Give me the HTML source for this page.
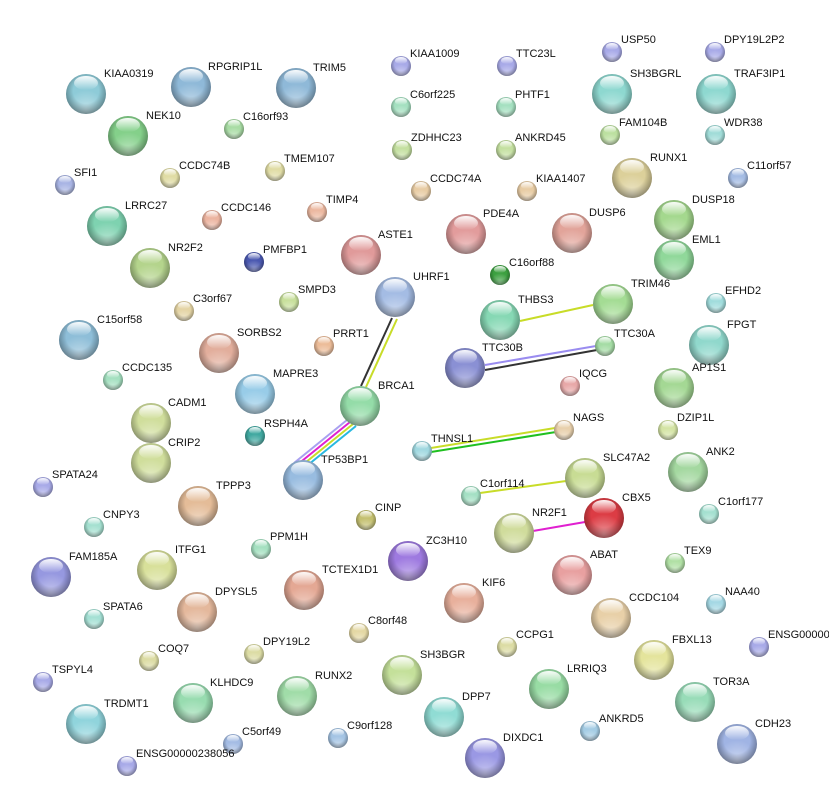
<!DOCTYPE html>
<html><head><meta charset="utf-8"><style>
html,body{margin:0;padding:0;background:#fff;}
svg{display:block;}
text{font-family:"Liberation Sans",sans-serif;font-size:11px;fill:#111;}
</style></head><body>
<svg width="829" height="811" viewBox="0 0 829 811" xmlns="http://www.w3.org/2000/svg">
<defs>
<radialGradient id="sh" cx="50%" cy="42%" r="58%"><stop offset="0.55" stop-color="#000" stop-opacity="0"/><stop offset="1" stop-color="#000" stop-opacity="0.38"/></radialGradient>
<linearGradient id="hl" x1="0" y1="0" x2="0" y2="1"><stop offset="0" stop-color="#fff" stop-opacity="0.95"/><stop offset="1" stop-color="#fff" stop-opacity="0"/></linearGradient>
<radialGradient id="bl" cx="50%" cy="90%" r="50%"><stop offset="0" stop-color="#fff" stop-opacity="0.45"/><stop offset="1" stop-color="#fff" stop-opacity="0"/></radialGradient>
<g id="L"><ellipse cx="1" cy="3" rx="20" ry="20" fill="#000" opacity="0.12"/></g>
<g id="LO"><circle r="20" fill="url(#bl)"/><circle r="20" fill="url(#sh)"/><ellipse cx="0" cy="-11" rx="12" ry="7" fill="url(#hl)"/></g>
<g id="SO"><circle r="10" fill="url(#bl)"/><circle r="10" fill="url(#sh)"/><ellipse cx="0" cy="-5.5" rx="6" ry="3.5" fill="url(#hl)"/></g>
</defs>

<!-- edges -->
<g fill="none" stroke-width="2">
<line x1="392" y1="318" x2="361" y2="386" stroke="#333"/>
<line x1="397" y1="319" x2="366" y2="387" stroke="#c8dc28"/>
<line x1="520" y1="321" x2="593" y2="305" stroke="#c8dc28"/>
<line x1="485" y1="365" x2="596" y2="346" stroke="#9a8cf0"/>
<line x1="485" y1="370" x2="597" y2="350" stroke="#333"/>
<line x1="347" y1="420" x2="294" y2="463" stroke="#a9a0f0"/>
<line x1="350" y1="422" x2="297" y2="465" stroke="#e020d0"/>
<line x1="353" y1="424" x2="300" y2="467" stroke="#c8dc28"/>
<line x1="356" y1="426" x2="303" y2="469" stroke="#28b8e0"/>
<line x1="431" y1="448" x2="555" y2="428" stroke="#c8dc28"/>
<line x1="431" y1="452" x2="556" y2="432" stroke="#20c020"/>
<line x1="480" y1="493" x2="566" y2="481" stroke="#c8dc28"/>
<line x1="533" y1="531" x2="585" y2="522" stroke="#e020d0"/>
</g>

<!-- large nodes -->
<g>
<circle cx="86" cy="94" r="20" fill="#8ecbd8"/><use href="#LO" x="86" y="94"/><text x="104" y="77">KIAA0319</text>
<circle cx="191" cy="87" r="20" fill="#8fb9d8"/><use href="#LO" x="191" y="87"/><text x="208" y="70">RPGRIP1L</text>
<circle cx="296" cy="88" r="20" fill="#8fb9d8"/><use href="#LO" x="296" y="88"/><text x="313" y="71">TRIM5</text>
<circle cx="128" cy="136" r="20" fill="#84d08a"/><use href="#LO" x="128" y="136"/><text x="146" y="119">NEK10</text>
<circle cx="107" cy="226" r="20" fill="#7ed2b0"/><use href="#LO" x="107" y="226"/><text x="125" y="209">LRRC27</text>
<circle cx="150" cy="268" r="20" fill="#b4d48c"/><use href="#LO" x="150" y="268"/><text x="168" y="251">NR2F2</text>
<circle cx="361" cy="255" r="20" fill="#e09a9a"/><use href="#LO" x="361" y="255"/><text x="378" y="238">ASTE1</text>
<circle cx="466" cy="234" r="20" fill="#e29c9c"/><use href="#LO" x="466" y="234"/><text x="483" y="217">PDE4A</text>
<circle cx="572" cy="233" r="20" fill="#e2a49a"/><use href="#LO" x="572" y="233"/><text x="589" y="216">DUSP6</text>
<circle cx="632" cy="178" r="20" fill="#dcd09a"/><use href="#LO" x="632" y="178"/><text x="650" y="161">RUNX1</text>
<circle cx="612" cy="94" r="20" fill="#8ed8d0"/><use href="#LO" x="612" y="94"/><text x="630" y="77">SH3BGRL</text>
<circle cx="716" cy="94" r="20" fill="#8ed8d0"/><use href="#LO" x="716" y="94"/><text x="734" y="77">TRAF3IP1</text>
<circle cx="674" cy="220" r="20" fill="#a4d88e"/><use href="#LO" x="674" y="220"/><text x="692" y="203">DUSP18</text>
<circle cx="674" cy="260" r="20" fill="#90d89a"/><use href="#LO" x="674" y="260"/><text x="692" y="243">EML1</text>
<circle cx="395" cy="297" r="20" fill="#a4bce4"/><use href="#LO" x="395" y="297"/><text x="413" y="280">UHRF1</text>
<circle cx="500" cy="320" r="20" fill="#86d8b4"/><use href="#LO" x="500" y="320"/><text x="518" y="303">THBS3</text>
<circle cx="613" cy="304" r="20" fill="#a4dc94"/><use href="#LO" x="613" y="304"/><text x="631" y="287">TRIM46</text>
<circle cx="465" cy="368" r="20" fill="#8a90d4"/><use href="#LO" x="465" y="368"/><text x="482" y="351">TTC30B</text>
<circle cx="709" cy="345" r="20" fill="#90d8cc"/><use href="#LO" x="709" y="345"/><text x="727" y="328">FPGT</text>
<circle cx="674" cy="388" r="20" fill="#a4d894"/><use href="#LO" x="674" y="388"/><text x="692" y="371">AP1S1</text>
<circle cx="79" cy="340" r="20" fill="#8ebed8"/><use href="#LO" x="79" y="340"/><text x="97" y="323">C15orf58</text>
<circle cx="219" cy="353" r="20" fill="#e2ae9c"/><use href="#LO" x="219" y="353"/><text x="237" y="336">SORBS2</text>
<circle cx="255" cy="394" r="20" fill="#98cce8"/><use href="#LO" x="255" y="394"/><text x="273" y="377">MAPRE3</text>
<circle cx="360" cy="406" r="20" fill="#94dca8"/><use href="#LO" x="360" y="406"/><text x="378" y="389">BRCA1</text>
<circle cx="151" cy="423" r="20" fill="#d0de9c"/><use href="#LO" x="151" y="423"/><text x="168" y="406">CADM1</text>
<circle cx="151" cy="463" r="20" fill="#d0de9c"/><use href="#LO" x="151" y="463"/><text x="168" y="446">CRIP2</text>
<circle cx="688" cy="472" r="20" fill="#a4d8a0"/><use href="#LO" x="688" y="472"/><text x="706" y="455">ANK2</text>
<circle cx="585" cy="478" r="20" fill="#c8dc94"/><use href="#LO" x="585" y="478"/><text x="603" y="461">SLC47A2</text>
<circle cx="604" cy="518" r="20" fill="#dc3c44"/><use href="#LO" x="604" y="518"/><text x="622" y="501">CBX5</text>
<circle cx="303" cy="480" r="20" fill="#98bce0"/><use href="#LO" x="303" y="480"/><text x="321" y="463">TP53BP1</text>
<circle cx="198" cy="506" r="20" fill="#e4bc98"/><use href="#LO" x="198" y="506"/><text x="216" y="489">TPPP3</text>
<circle cx="514" cy="533" r="20" fill="#d0dc9c"/><use href="#LO" x="514" y="533"/><text x="532" y="516">NR2F1</text>
<circle cx="408" cy="561" r="20" fill="#9e7ae0"/><use href="#LO" x="408" y="561"/><text x="426" y="544">ZC3H10</text>
<circle cx="51" cy="577" r="20" fill="#9698e0"/><use href="#LO" x="51" y="577"/><text x="69" y="560">FAM185A</text>
<circle cx="157" cy="570" r="20" fill="#d8e09a"/><use href="#LO" x="157" y="570"/><text x="175" y="553">ITFG1</text>
<circle cx="304" cy="590" r="20" fill="#e4a894"/><use href="#LO" x="304" y="590"/><text x="322" y="573">TCTEX1D1</text>
<circle cx="572" cy="575" r="20" fill="#e8a0a0"/><use href="#LO" x="572" y="575"/><text x="590" y="558">ABAT</text>
<circle cx="464" cy="603" r="20" fill="#e8b09c"/><use href="#LO" x="464" y="603"/><text x="482" y="586">KIF6</text>
<circle cx="197" cy="612" r="20" fill="#e4b89c"/><use href="#LO" x="197" y="612"/><text x="215" y="595">DPYSL5</text>
<circle cx="611" cy="618" r="20" fill="#e8d0a8"/><use href="#LO" x="611" y="618"/><text x="629" y="601">CCDC104</text>
<circle cx="654" cy="660" r="20" fill="#e4e49c"/><use href="#LO" x="654" y="660"/><text x="672" y="643">FBXL13</text>
<circle cx="402" cy="675" r="20" fill="#c4e09a"/><use href="#LO" x="402" y="675"/><text x="420" y="658">SH3BGR</text>
<circle cx="549" cy="689" r="20" fill="#98dca4"/><use href="#LO" x="549" y="689"/><text x="567" y="672">LRRIQ3</text>
<circle cx="297" cy="696" r="20" fill="#a0dca8"/><use href="#LO" x="297" y="696"/><text x="315" y="679">RUNX2</text>
<circle cx="193" cy="703" r="20" fill="#98dcb0"/><use href="#LO" x="193" y="703"/><text x="210" y="686">KLHDC9</text>
<circle cx="695" cy="702" r="20" fill="#98dcb8"/><use href="#LO" x="695" y="702"/><text x="713" y="685">TOR3A</text>
<circle cx="86" cy="724" r="20" fill="#90d4dc"/><use href="#LO" x="86" y="724"/><text x="104" y="707">TRDMT1</text>
<circle cx="444" cy="717" r="20" fill="#90dcd4"/><use href="#LO" x="444" y="717"/><text x="462" y="700">DPP7</text>
<circle cx="485" cy="758" r="20" fill="#9a98e4"/><use href="#LO" x="485" y="758"/><text x="503" y="741">DIXDC1</text>
<circle cx="737" cy="744" r="20" fill="#a0b4e4"/><use href="#LO" x="737" y="744"/><text x="755" y="727">CDH23</text>
</g>

<!-- small nodes -->
<g>
<circle cx="401" cy="66" r="10" fill="#a8aae8"/><use href="#SO" x="401" y="66"/><text x="410" y="57">KIAA1009</text>
<circle cx="507" cy="66" r="10" fill="#a8aae8"/><use href="#SO" x="507" y="66"/><text x="516" y="57">TTC23L</text>
<circle cx="612" cy="52" r="10" fill="#a8aae8"/><use href="#SO" x="612" y="52"/><text x="621" y="43">USP50</text>
<circle cx="715" cy="52" r="10" fill="#a8aae8"/><use href="#SO" x="715" y="52"/><text x="724" y="43">DPY19L2P2</text>
<circle cx="401" cy="107" r="10" fill="#a4e0c0"/><use href="#SO" x="401" y="107"/><text x="410" y="98">C6orf225</text>
<circle cx="506" cy="107" r="10" fill="#a4e0c0"/><use href="#SO" x="506" y="107"/><text x="515" y="98">PHTF1</text>
<circle cx="234" cy="129" r="10" fill="#a8dca4"/><use href="#SO" x="234" y="129"/><text x="243" y="120">C16orf93</text>
<circle cx="610" cy="135" r="10" fill="#bce0a0"/><use href="#SO" x="610" y="135"/><text x="619" y="126">FAM104B</text>
<circle cx="715" cy="135" r="10" fill="#a0dcd8"/><use href="#SO" x="715" y="135"/><text x="724" y="126">WDR38</text>
<circle cx="402" cy="150" r="10" fill="#c4e0a0"/><use href="#SO" x="402" y="150"/><text x="411" y="141">ZDHHC23</text>
<circle cx="506" cy="150" r="10" fill="#c4e0a0"/><use href="#SO" x="506" y="150"/><text x="515" y="141">ANKRD45</text>
<circle cx="170" cy="178" r="10" fill="#e0dca4"/><use href="#SO" x="170" y="178"/><text x="179" y="169">CCDC74B</text>
<circle cx="275" cy="171" r="10" fill="#e0dca4"/><use href="#SO" x="275" y="171"/><text x="284" y="162">TMEM107</text>
<circle cx="65" cy="185" r="10" fill="#a8b4e4"/><use href="#SO" x="65" y="185"/><text x="74" y="176">SFI1</text>
<circle cx="421" cy="191" r="10" fill="#e8cca4"/><use href="#SO" x="421" y="191"/><text x="430" y="182">CCDC74A</text>
<circle cx="527" cy="191" r="10" fill="#e8cca4"/><use href="#SO" x="527" y="191"/><text x="536" y="182">KIAA1407</text>
<circle cx="738" cy="178" r="10" fill="#a4bce4"/><use href="#SO" x="738" y="178"/><text x="747" y="169">C11orf57</text>
<circle cx="212" cy="220" r="10" fill="#ecb4a0"/><use href="#SO" x="212" y="220"/><text x="221" y="211">CCDC146</text>
<circle cx="317" cy="212" r="10" fill="#ecb8a0"/><use href="#SO" x="317" y="212"/><text x="326" y="203">TIMP4</text>
<circle cx="254" cy="262" r="10" fill="#4a58b0"/><use href="#SO" x="254" y="262"/><text x="263" y="253">PMFBP1</text>
<circle cx="500" cy="275" r="10" fill="#3ca040"/><use href="#SO" x="500" y="275"/><text x="509" y="266">C16orf88</text>
<circle cx="289" cy="302" r="10" fill="#c8e09c"/><use href="#SO" x="289" y="302"/><text x="298" y="293">SMPD3</text>
<circle cx="184" cy="311" r="10" fill="#e4d4a4"/><use href="#SO" x="184" y="311"/><text x="193" y="302">C3orf67</text>
<circle cx="716" cy="303" r="10" fill="#a0dcdc"/><use href="#SO" x="716" y="303"/><text x="725" y="294">EFHD2</text>
<circle cx="324" cy="346" r="10" fill="#ecbc98"/><use href="#SO" x="324" y="346"/><text x="333" y="337">PRRT1</text>
<circle cx="605" cy="346" r="10" fill="#a4dca4"/><use href="#SO" x="605" y="346"/><text x="614" y="337">TTC30A</text>
<circle cx="113" cy="380" r="10" fill="#a4e0c0"/><use href="#SO" x="113" y="380"/><text x="122" y="371">CCDC135</text>
<circle cx="570" cy="386" r="10" fill="#e8a8a8"/><use href="#SO" x="570" y="386"/><text x="579" y="377">IQCG</text>
<circle cx="255" cy="436" r="10" fill="#40a8a0"/><use href="#SO" x="255" y="436"/><text x="264" y="427">RSPH4A</text>
<circle cx="564" cy="430" r="10" fill="#e8d0ac"/><use href="#SO" x="564" y="430"/><text x="573" y="421">NAGS</text>
<circle cx="668" cy="430" r="10" fill="#d4e4a4"/><use href="#SO" x="668" y="430"/><text x="677" y="421">DZIP1L</text>
<circle cx="422" cy="451" r="10" fill="#a0d8e0"/><use href="#SO" x="422" y="451"/><text x="431" y="442">THNSL1</text>
<circle cx="43" cy="487" r="10" fill="#a8aae8"/><use href="#SO" x="43" y="487"/><text x="52" y="478">SPATA24</text>
<circle cx="471" cy="496" r="10" fill="#a4e0c4"/><use href="#SO" x="471" y="496"/><text x="480" y="487">C1orf114</text>
<circle cx="709" cy="514" r="10" fill="#a4e0d0"/><use href="#SO" x="709" y="514"/><text x="718" y="505">C1orf177</text>
<circle cx="94" cy="527" r="10" fill="#a4e0d0"/><use href="#SO" x="94" y="527"/><text x="103" y="518">CNPY3</text>
<circle cx="366" cy="520" r="10" fill="#c4c070"/><use href="#SO" x="366" y="520"/><text x="375" y="511">CINP</text>
<circle cx="261" cy="549" r="10" fill="#a4e0c0"/><use href="#SO" x="261" y="549"/><text x="270" y="540">PPM1H</text>
<circle cx="675" cy="563" r="10" fill="#b0e0a4"/><use href="#SO" x="675" y="563"/><text x="684" y="554">TEX9</text>
<circle cx="94" cy="619" r="10" fill="#a4e0d4"/><use href="#SO" x="94" y="619"/><text x="103" y="610">SPATA6</text>
<circle cx="716" cy="604" r="10" fill="#a4d8e4"/><use href="#SO" x="716" y="604"/><text x="725" y="595">NAA40</text>
<circle cx="359" cy="633" r="10" fill="#e4d8a4"/><use href="#SO" x="359" y="633"/><text x="368" y="624">C8orf48</text>
<circle cx="149" cy="661" r="10" fill="#dcdca4"/><use href="#SO" x="149" y="661"/><text x="158" y="652">COQ7</text>
<circle cx="254" cy="654" r="10" fill="#dcdca4"/><use href="#SO" x="254" y="654"/><text x="263" y="645">DPY19L2</text>
<circle cx="507" cy="647" r="10" fill="#dcdca4"/><use href="#SO" x="507" y="647"/><text x="516" y="638">CCPG1</text>
<circle cx="759" cy="647" r="10" fill="#a8aae8"/><use href="#SO" x="759" y="647"/><text x="768" y="638">ENSG00000</text>
<circle cx="43" cy="682" r="10" fill="#a8aae8"/><use href="#SO" x="43" y="682"/><text x="52" y="673">TSPYL4</text>
<circle cx="233" cy="744" r="10" fill="#a4bce4"/><use href="#SO" x="233" y="744"/><text x="242" y="735">C5orf49</text>
<circle cx="338" cy="738" r="10" fill="#a4c4e4"/><use href="#SO" x="338" y="738"/><text x="347" y="729">C9orf128</text>
<circle cx="590" cy="731" r="10" fill="#a4cce4"/><use href="#SO" x="590" y="731"/><text x="599" y="722">ANKRD5</text>
<circle cx="127" cy="766" r="10" fill="#a8aae8"/><use href="#SO" x="127" y="766"/><text x="136" y="757">ENSG00000238056</text>
</g>
</svg>
</body></html>
